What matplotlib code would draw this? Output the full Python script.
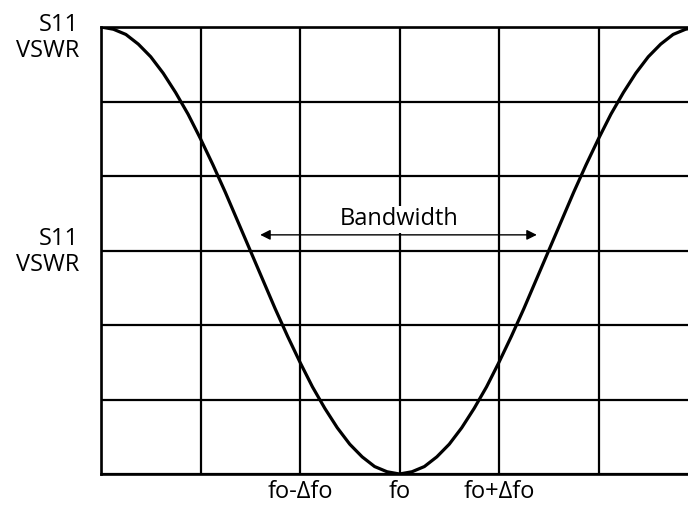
import matplotlib.pyplot as plt

plt.rcParams['font.family'] = ['Open Sans', 'DejaVu Sans']

# Curve (grid units: 6 columns x 6 rows)
freq = [0, 0.125, 0.25, 0.375, 0.5, 0.625, 0.75, 0.875, 1, 1.125, 1.25, 1.375,
        1.5, 1.625, 1.75, 1.875, 2, 2.125, 2.25, 2.375, 2.5, 2.625, 2.75, 2.875,
        3, 3.125, 3.25, 3.375, 3.5, 3.625, 3.75, 3.875, 4, 4.125, 4.25, 4.375,
        4.5, 4.625, 4.75, 4.875, 5, 5.125, 5.25, 5.375, 5.5, 5.625, 5.75, 5.875, 6]
s11 = [6.0, 5.97, 5.9, 5.77, 5.6, 5.38, 5.12, 4.83, 4.5, 4.15, 3.78, 3.39,
       3.0, 2.61, 2.22, 1.85, 1.5, 1.17, 0.88, 0.62, 0.4, 0.23, 0.1, 0.03,
       0.0, 0.03, 0.1, 0.23, 0.4, 0.62, 0.88, 1.17, 1.5, 1.85, 2.22, 2.61,
       3.0, 3.39, 3.78, 4.15, 4.5, 4.83, 5.12, 5.38, 5.6, 5.77, 5.9, 5.97, 6.0]

tick_pos = [0, 1, 2, 3, 4, 5, 6]
tick_labels = ['', '', 'fo-\u0394fo', 'fo', 'fo+\u0394fo', '', '']
y_label = 'S11\nVSWR'
bw_left, bw_right, bw_level = 1.6, 4.38, 3.21

fig = plt.figure(figsize=(6.88, 5.12), dpi=100)
ax = fig.add_axes([101 / 688, 38 / 512, 597 / 688, 447 / 512])

ax.plot(freq, s11, color='black', lw=2.3, solid_joinstyle='round', zorder=3)

ax.set_xlim(0, 6)
ax.set_ylim(0, 6)
ax.set_xticks(tick_pos)
ax.set_xticklabels(tick_labels, fontsize=17)
ax.set_yticks(tick_pos)
ax.set_yticklabels([])
ax.tick_params(length=0, pad=4)
ax.grid(True, color='black', lw=1.6)
for sp in ax.spines.values():
    sp.set_linewidth(1.9)

# Bandwidth arrow
ax.annotate('', xy=(bw_left, bw_level), xytext=(bw_right, bw_level),
            arrowprops=dict(arrowstyle='<|-|>', color='black', lw=1.0,
                            mutation_scale=15, shrinkA=0, shrinkB=0), zorder=4)
ax.text(3, 3.42, 'Bandwidth', ha='center', va='center', fontsize=17,
        bbox=dict(facecolor='white', edgecolor='none', pad=1), zorder=4)

# left-hand labels
fig.text(79 / 688, 1 - 38 / 512, y_label, ha='right', va='center',
         multialignment='right', fontsize=17, linespacing=1.15)
fig.text(79 / 688, 1 - 252 / 512, y_label, ha='right', va='center',
         multialignment='right', fontsize=17, linespacing=1.15)

fig.savefig('out.png', dpi=100)
